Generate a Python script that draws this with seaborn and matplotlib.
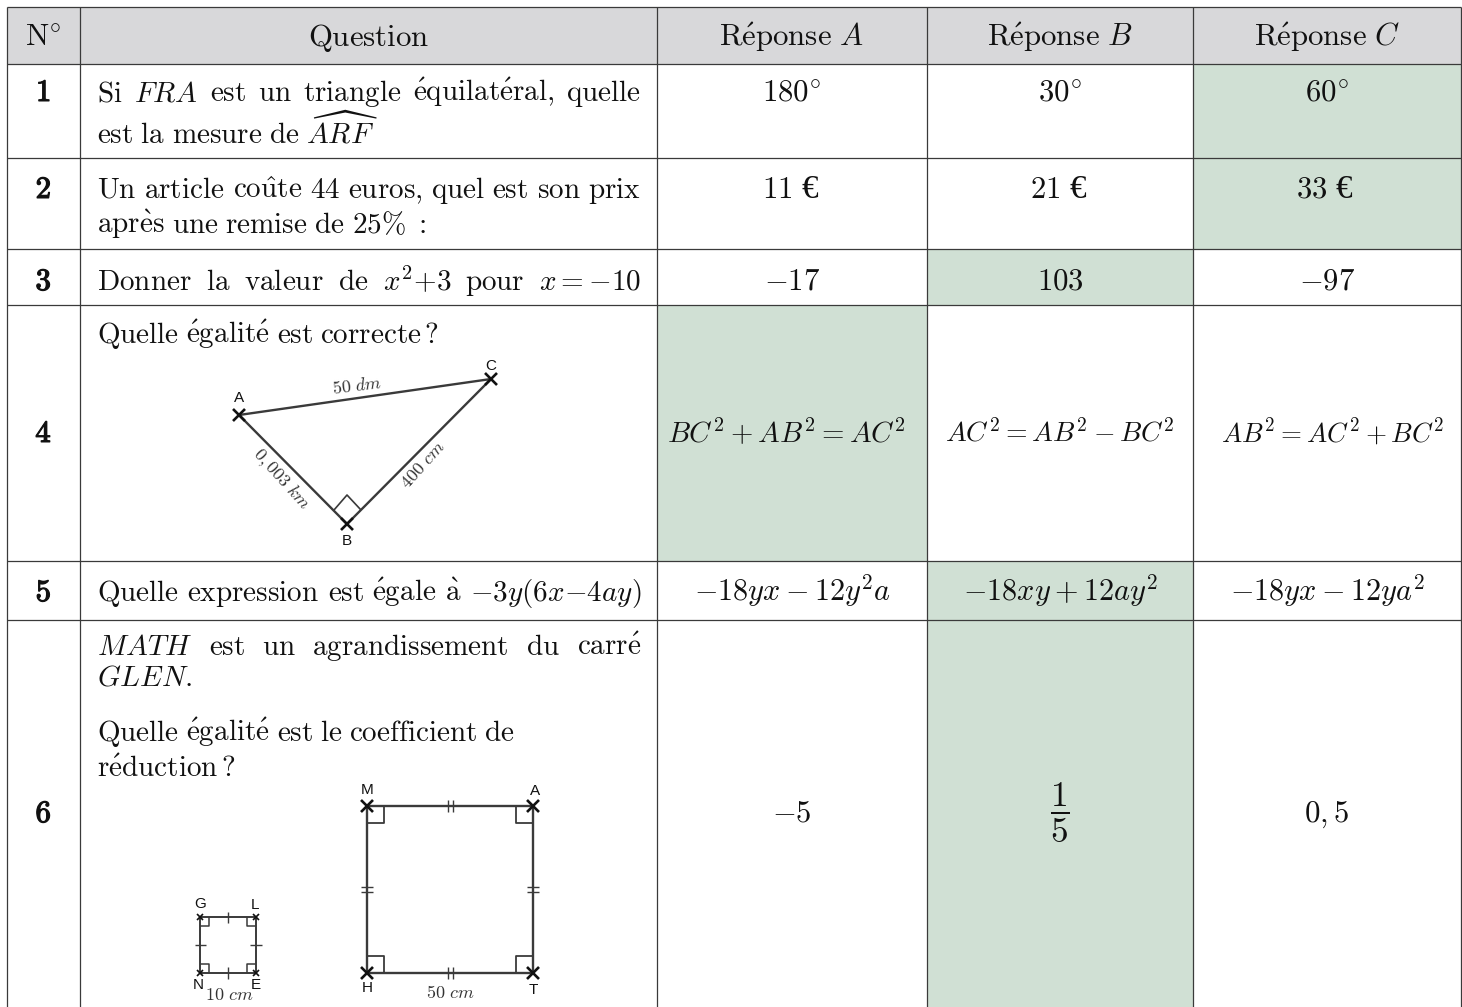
import matplotlib
matplotlib.use("Agg")
import matplotlib.pyplot as plt
import matplotlib.patheffects as pe
import seaborn as sns
from matplotlib.patches import Rectangle

sns.set_theme(style="white")
plt.rcParams["mathtext.fontset"] = "cm"

# ---- table content -------------------------------------------------
HEADERS = [r"$\mathrm{N}^{\circ}$", r"$\mathrm{Question}$",
           r"$\mathrm{R\acute{e}ponse}\ A$", r"$\mathrm{R\acute{e}ponse}\ B$", r"$\mathrm{R\acute{e}ponse}\ C$"]
NUMBERS = ["1", "2", "3", "4", "5", "6"]
ANSWERS_A = [r"$180^{\circ}$", "11 €", r"$-17$", r"$BC^2+AB^2=AC^2$", r"$-18yx-12y^2a$", r"$-5$"]
ANSWERS_B = [r"$30^{\circ}$", "21 €", r"$103$", r"$AC^2=AB^2-BC^2$", r"$-18xy+12ay^2$", r"$\dfrac{1}{5}$"]
ANSWERS_C = [r"$60^{\circ}$", "33 €", r"$-97$", r"$AB^2=AC^2+BC^2$", r"$-18yx-12ya^2$", r"$0,5$"]
CORRECT = [2, 2, 1, 0, 1, 1]
QUESTION_LINES = [
    ("Si $FRA$ est un triangle équilatéral, quelle", True, 1),
    (r"est la mesure de $\widehat{ARF}$", False, 1),
    ("Un article coûte 44 euros, quel est son prix", True, 2),
    ("après une remise de 25% :", False, 2),
    ("Donner la valeur de $x^2{+}3$ pour $x=-10$", True, 3),
    (r"Quelle égalité est correcte\,?", False, 4),
    ("Quelle expression est égale à $-3y(6x{-}4ay)$", True, 5),
    ("$MATH$ est un agrandissement du carré", True, 6),
    ("$GLEN.$", False, 6),
    ("Quelle égalité est le coefficient de", False, 6),
    (r"réduction\,?", False, 6),
]

# ---- layout --------------------------------------------------------
COL_EDGES = [7, 80, 657, 927, 1193, 1461]
ROW_EDGES = [7, 64, 158, 249, 305, 561, 620, 1007]
QUESTION_BASELINES = [101, 143, 198, 233, 290, 343, 601, 655, 686, 741, 777]
NUMBER_BASELINES = [101, 198, 290, 442, 601, 822]
ANSWER_BASELINES = [101, 198, 290, 442, 601, 822]
LINE_COLOR = "#3a3a3a"
FS = 22.2
FS_BODY = 21.0
ROW4_SIZES = [20.8, 20.0, 19.4]
ROW4_SHIFT = [-6, 0, 6]
FS_ROW5 = 21.8

fig = plt.figure(figsize=(14.62, 10.07), dpi=100)
ax = fig.add_axes([0, 0, 1, 1])
ax.set_xlim(0, 1462)
ax.set_ylim(1007, 0)
ax.axis("off")


def seg(xs, ys, lw=0.9, color=LINE_COLOR):
    sns.lineplot(x=xs, y=ys, sort=False, estimator=None, ax=ax, color=color,
                 linewidth=lw, solid_capstyle="butt")
    ax.set_xlim(0, 1462)
    ax.set_ylim(1007, 0)


def tex(word):
    if word.startswith("$"):
        return word
    rep = {"é": r"\acute{e}", "è": r"\grave{e}", "û": r"\hat{u}", "à": r"\grave{a}", "%": r"\%"}
    for k, v in rep.items():
        word = word.replace(k, v)
    return rf"$\mathrm{{{word}}}$"


def put_line(line, justify, y, x0=97, x1=641):
    words = line.split(" ")
    arts = [ax.text(x0, y, tex(w), fontsize=FS_BODY, va="baseline", ha="left", color="#111111") for w in words]
    fig.canvas.draw()
    r = fig.canvas.get_renderer()
    widths = [a.get_window_extent(r).width for a in arts]
    n = max(len(words) - 1, 1)
    gap = (x1 - x0 - sum(widths)) / n if justify else 7.0
    x = x0
    for a, w in zip(arts, widths):
        a.set_x(x)
        x += w + gap


# fills
ax.add_patch(Rectangle((COL_EDGES[0], ROW_EDGES[0]), COL_EDGES[-1] - COL_EDGES[0],
                       ROW_EDGES[1] - ROW_EDGES[0], fc="#d8d8da", ec="none", zorder=0))
for i, c in enumerate(CORRECT):
    ax.add_patch(Rectangle((COL_EDGES[c + 2], ROW_EDGES[i + 1]), COL_EDGES[c + 3] - COL_EDGES[c + 2],
                           ROW_EDGES[i + 2] - ROW_EDGES[i + 1], fc="#d0e0d4", ec="none", zorder=0))

# grid
for xe in COL_EDGES:
    seg([xe, xe], [ROW_EDGES[0], ROW_EDGES[-1]])
for ye in ROW_EDGES[:-1]:
    seg([COL_EDGES[0], COL_EDGES[-1]], [ye, ye])

# texts
centers = [(COL_EDGES[i] + COL_EDGES[i + 1]) / 2 for i in range(5)]
for cx, h in zip(centers, HEADERS):
    ax.text(cx, 46, h, fontsize=FS, ha="center", va="baseline", color="#111111")
for n, y in zip(NUMBERS, NUMBER_BASELINES):
    ax.text(centers[0], y, rf"$\mathbf{{{n}}}$", fontsize=FS, ha="center", va="baseline", color="#111111",
            path_effects=[pe.withStroke(linewidth=0.9, foreground="#111111")])
for col, answers in enumerate([ANSWERS_A, ANSWERS_B, ANSWERS_C]):
    cx = centers[col + 2]
    for i, (t, y) in enumerate(zip(answers, ANSWER_BASELINES)):
        if "€" in t:
            num, euro = t.split(" ")
            ax.text(cx, y, f"${num}$", fontsize=FS, ha="right", va="baseline", color="#111111")
            ax.text(cx + 9, y, euro, fontsize=FS * 1.08, family="Liberation Serif", ha="left", va="baseline",
                    color="#111111")
        elif "frac" in t:
            ax.text(cx, 813, t, fontsize=FS * 1.15, ha="center", va="center", color="#111111")
        elif i == 3:
            ax.text(cx + ROW4_SHIFT[col], y, t, fontsize=ROW4_SIZES[col], ha="center", va="baseline", color="#111111")
        elif i == 4:
            ax.text(cx, y, t, fontsize=FS_ROW5, ha="center", va="baseline", color="#111111")
        else:
            ax.text(cx, y, t, fontsize=FS, ha="center", va="baseline", color="#111111")
for (line, just, _), y in zip(QUESTION_LINES, QUESTION_BASELINES):
    put_line(line, just, y)


def cross(x, y, s=6, lw=1.9):
    seg([x - s, x + s], [y - s, y + s], lw=lw, color="#111111")
    seg([x - s, x + s], [y + s, y - s], lw=lw, color="#111111")


def lab(x, y, t):
    ax.text(x, y, t, fontsize=11, family="Liberation Sans", ha="center", va="center", color="#111111")


def mlab(x, y, t, rot=0):
    ax.text(x, y, t, fontsize=13, ha="center", va="center", rotation=rot,
            rotation_mode="anchor", color="#333333")


# triangle
seg([239, 491, 347, 239], [415, 379, 524, 415], lw=1.7)
seg([334, 347, 361], [510, 495, 510], lw=1.2)
for p in [(239, 415), (491, 379), (347, 524)]:
    cross(*p)
lab(239, 398, "A"); lab(491, 366, "C"); lab(347, 541, "B")
mlab(357, 386, r"$50\ dm$", 7)
mlab(281, 480, r"$0,003\ km$", -48)
mlab(423, 465, r"$400\ cm$", 48)

# big square
seg([367, 533, 533, 367, 367], [806, 806, 973, 973, 806], lw=1.7)
for (x, y, dx, dy) in [(367, 806, 17, 17), (533, 806, -17, 17), (367, 973, 17, -17), (533, 973, -17, -17)]:
    seg([x + dx, x + dx, x], [y, y + dy, y + dy], lw=1.3)
    cross(x, y)
for o in (-2.5, 2.5):
    seg([450 + o, 450 + o], [800, 812], lw=1.0)
    seg([450 + o, 450 + o], [967, 979], lw=1.0)
    seg([361, 373], [889 + o, 889 + o], lw=1.0)
    seg([527, 539], [889 + o, 889 + o], lw=1.0)
lab(367, 790, "M"); lab(535, 791, "A"); lab(367, 988, "H"); lab(533, 990, "T")
mlab(450, 993, r"$50\ cm$")

# small square
seg([200, 256, 256, 200, 200], [917, 917, 973, 973, 917], lw=1.4)
for (x, y, dx, dy) in [(200, 917, 9, 9), (256, 917, -9, 9), (200, 973, 9, -9), (256, 973, -9, -9)]:
    seg([x + dx, x + dx, x], [y, y + dy, y + dy], lw=1.1)
    cross(x, y, s=3, lw=1.2)
seg([228, 228], [912, 923], lw=1.0)
seg([228, 228], [967, 979], lw=1.0)
seg([195, 206], [945, 945], lw=1.0)
seg([250, 262], [945, 945], lw=1.0)
lab(200, 904, "G"); lab(255, 905, "L"); lab(198, 985, "N"); lab(256, 985, "E")
mlab(229, 995, r"$10\ cm$")

fig.savefig("out.png", dpi=100, facecolor="white")
